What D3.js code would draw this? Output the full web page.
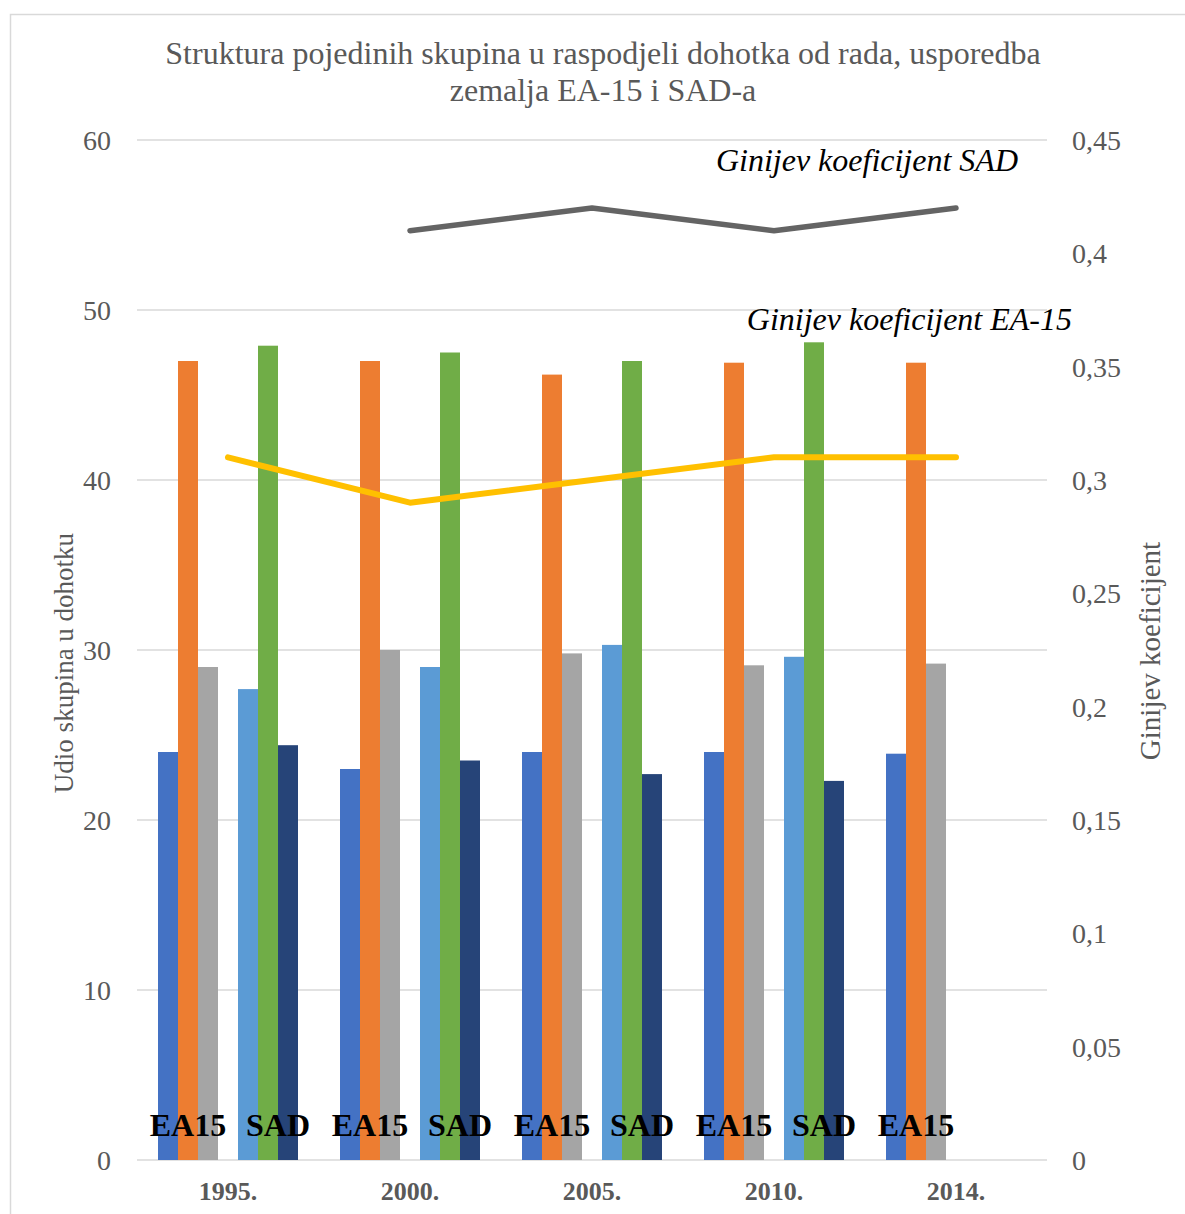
<!DOCTYPE html>
<html>
<head>
<meta charset="utf-8">
<script src="https://cdn.jsdelivr.net/npm/d3@7"></script>
<style>
  body { margin: 0; background: #fff; }
  text { font-family: "Liberation Serif", "DejaVu Serif", serif; }
</style>
</head>
<body>
<svg id="chart" width="1185" height="1214"></svg>
<script>
const years = ["1995.", "2000.", "2005.", "2010.", "2014."];

// EA15 groups (share of income)
const ea15Low = [24, 23, 24, 24, 23.9];
const ea15Mid = [47, 47, 46.2, 46.9, 46.9];
const ea15High = [29, 30, 29.8, 29.1, 29.2];

// SAD groups (no 2014 data)
const sadLow = [27.7, 29, 30.3, 29.6, null];
const sadMid = [47.9, 47.5, 47, 48.1, null];
const sadHigh = [24.4, 23.5, 22.7, 22.3, null];

// Gini coefficients
const giniEA15 = [0.31, 0.29, 0.30, 0.31, 0.31];
const giniSAD = [null, 0.41, 0.42, 0.41, 0.42];

const leftTicks = [0, 10, 20, 30, 40, 50, 60];
const rightTicks = [0, 0.05, 0.1, 0.15, 0.2, 0.25, 0.3, 0.35, 0.4, 0.45];

const series = [
  { key: "e1", values: ea15Low, color: "#4472C4" },
  { key: "e2", values: ea15Mid, color: "#ED7D31" },
  { key: "e3", values: ea15High, color: "#A5A5A5" },
  { key: "s1", values: sadLow, color: "#5B9BD5" },
  { key: "s2", values: sadMid, color: "#70AD47" },
  { key: "s3", values: sadHigh, color: "#264478" }
];
const slots = ["e1", "e2", "e3", "gap", "s1", "s2", "s3"];

const svg = d3.select("#chart");
const plot = { left: 137, right: 1047, top: 140, bottom: 1160 };

// outer border
svg.append("rect")
  .attr("x", 10.5).attr("y", 14.5)
  .attr("width", 1200).attr("height", 1250)
  .attr("fill", "none").attr("stroke", "#d9d9d9").attr("stroke-width", 1.5);

const x = d3.scaleBand().domain(years).range([plot.left, plot.right]);
const xInner = d3.scaleBand().domain(slots).range([21, x.bandwidth() - 21]);
const y = d3.scaleLinear().domain([0, 60]).range([plot.bottom, plot.top]);
const y2 = d3.scaleLinear().domain([0, 0.45]).range([plot.bottom, plot.top]);

// gridlines
svg.append("g").selectAll("line").data(leftTicks).join("line")
  .attr("x1", plot.left).attr("x2", plot.right)
  .attr("y1", d => y(d)).attr("y2", d => y(d))
  .attr("stroke", "#d9d9d9").attr("stroke-width", 1.5);

// left tick labels
svg.append("g").selectAll("text").data(leftTicks).join("text")
  .attr("x", 111).attr("y", d => y(d) + 10)
  .attr("text-anchor", "end")
  .attr("fill", "#595959").style("font-size", "28px")
  .text(d => d);

// right tick labels
const fmt = d => d === 0 ? "0" : String(+d.toFixed(2)).replace(".", ",");
svg.append("g").selectAll("text").data(rightTicks).join("text")
  .attr("x", 1072).attr("y", d => y2(d) + 10)
  .attr("fill", "#595959").style("font-size", "28px")
  .text(fmt);

// bars
series.forEach(s => {
  svg.append("g").selectAll("rect")
    .data(years.map((yr, i) => ({ yr, v: s.values[i] })).filter(d => d.v != null))
    .join("rect")
    .attr("x", d => x(d.yr) + xInner(s.key))
    .attr("width", xInner.bandwidth())
    .attr("y", d => y(d.v))
    .attr("height", d => y(0) - y(d.v))
    .attr("fill", s.color);
});

// group labels
years.forEach((yr, i) => {
  svg.append("text")
    .attr("x", x(yr) + xInner("e2") + xInner.bandwidth() / 2)
    .attr("y", 1136)
    .attr("text-anchor", "middle")
    .style("font-size", "32px").style("font-weight", "bold")
    .attr("fill", "#000")
    .text("EA15");
  if (sadMid[i] != null) {
    svg.append("text")
      .attr("x", x(yr) + xInner("s2") + xInner.bandwidth() / 2 + 10)
      .attr("y", 1136)
      .attr("text-anchor", "middle")
      .style("font-size", "32px").style("font-weight", "bold")
      .attr("fill", "#000")
      .text("SAD");
  }
});

// gini lines
const line = d3.line()
  .defined(d => d.v != null)
  .x(d => x(d.yr) + x.bandwidth() / 2)
  .y(d => y2(d.v));

svg.append("path")
  .datum(years.map((yr, i) => ({ yr, v: giniEA15[i] })))
  .attr("d", line)
  .attr("fill", "none").attr("stroke", "#FFC000")
  .attr("stroke-width", 6).attr("stroke-linecap", "round").attr("stroke-linejoin", "round");

svg.append("path")
  .datum(years.map((yr, i) => ({ yr, v: giniSAD[i] })))
  .attr("d", line)
  .attr("fill", "none").attr("stroke", "#646464")
  .attr("stroke-width", 5.5).attr("stroke-linecap", "round").attr("stroke-linejoin", "round");

// x axis labels
svg.append("g").selectAll("text").data(years).join("text")
  .attr("x", d => x(d) + x.bandwidth() / 2)
  .attr("y", 1200)
  .attr("text-anchor", "middle")
  .attr("fill", "#595959")
  .style("font-size", "26px").style("font-weight", "bold")
  .text(d => d);

// line annotations
svg.append("text")
  .attr("x", 1018).attr("y", 171)
  .attr("text-anchor", "end")
  .style("font-size", "32px").style("font-style", "italic")
  .text("Ginijev koeficijent SAD");

svg.append("text")
  .attr("x", 1072).attr("y", 330)
  .attr("text-anchor", "end")
  .style("font-size", "32px").style("font-style", "italic")
  .text("Ginijev koeficijent EA-15");

// title
const title = svg.append("text")
  .attr("x", 603).attr("y", 64)
  .attr("text-anchor", "middle")
  .attr("fill", "#595959").style("font-size", "32px");
title.append("tspan").attr("x", 603).text("Struktura pojedinih skupina u raspodjeli dohotka od rada, usporedba");
title.append("tspan").attr("x", 603).attr("dy", 37).text("zemalja EA-15 i SAD-a");

// axis titles
svg.append("text")
  .attr("transform", `translate(73,663) rotate(-90)`)
  .attr("text-anchor", "middle")
  .attr("fill", "#595959").style("font-size", "27px")
  .text("Udio skupina u dohotku");

svg.append("text")
  .attr("transform", `translate(1160,651) rotate(-90)`)
  .attr("text-anchor", "middle")
  .attr("fill", "#595959").style("font-size", "29px")
  .text("Ginijev koeficijent");
</script>
</body>
</html>
